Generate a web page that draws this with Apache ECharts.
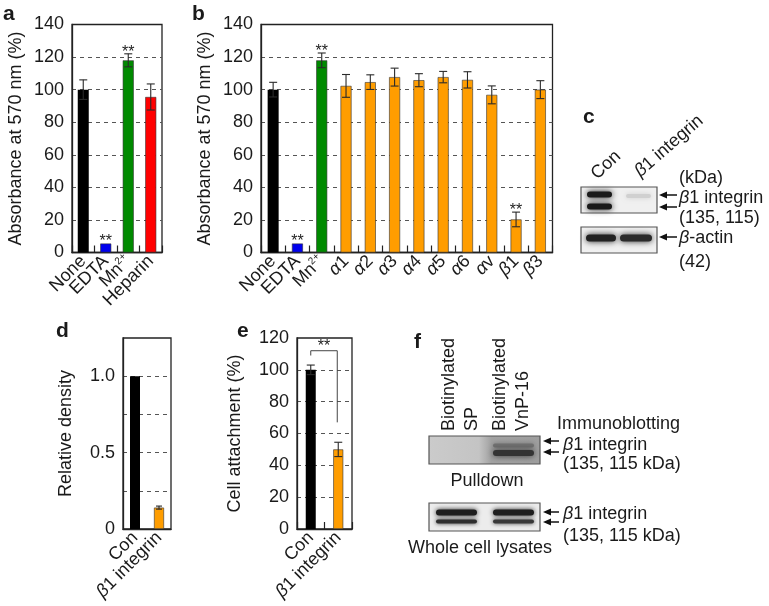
<!DOCTYPE html>
<html>
<head>
<meta charset="utf-8">
<script src="https://cdn.jsdelivr.net/npm/echarts@6/dist/echarts.min.js"></script>
<style>html,body{margin:0;padding:0;background:#fff}#c{width:769px;height:606px}</style>
</head>
<body>
<div id="c"></div>
<script>
// ---- data ----
const catsA = ['None', 'EDTA', 'Mn2+', 'Heparin'];
const valsA = [100, 5.5, 118, 95.5];
const errA = [6, 0, 4, 8];
const sigA = ['', '**', '**', ''];
const colorsA = ['#000000', '#0000ee', '#008a00', '#ff0000'];

const catsB = ['None', 'EDTA', 'Mn2+', 'α1', 'α2', 'α3', 'α4', 'α5', 'α6', 'αv', 'β1', 'β3'];
const valsB = [100, 5.5, 118, 102.3, 104.6, 107.7, 105.8, 107.7, 106, 96.8, 20.3, 100];
const errB = [4.5, 0, 4.5, 7, 4.5, 5.5, 4, 3.5, 5, 5.5, 4.5, 5.5];
const sigB = ['', '**', '**', '', '', '', '', '', '', '', '**', ''];
const colorsB = ['#000000', '#0000ee', '#008a00', '#ff9d00', '#ff9d00', '#ff9d00', '#ff9d00', '#ff9d00', '#ff9d00', '#ff9d00', '#ff9d00', '#ff9d00'];

const catsD = ['Con', 'β1 integrin'];
const valsD = [1.0, 0.14];
const errD = [0, 0.01];
const colorsD = ['#000000', '#ff9d00'];
const ticksD = [0, 0.5, 1.0];

const catsE = ['Con', 'β1 integrin'];
const valsE = [100, 50];
const errE = [3, 4.5];
const colorsE = ['#000000', '#ff9d00'];
const bracketE = [112, 109, 67]; // top, left leg end, right leg end
const bracketSig = '**';

const yTicksA = [0, 140, 20];
const yTicksE = [0, 120, 20];

// ---- helpers ----
const FONT = '"Liberation Sans", Arial, Helvetica, sans-serif';
const TXT = '#1a1a1a';
function catLabel(name) {
  if (name === 'Mn2+') return '{t|Mn}{s|2+}';
  const m = name.match(/^([αβ])(.*)$/);
  if (m) return '{i|' + m[1] + '}{t|' + m[2] + '}';
  return '{t|' + name + '}';
}
const rich = {
  t: { fontSize: 18, fontFamily: FONT, color: TXT, lineHeight: 20 },
  i: { fontSize: 18, fontFamily: FONT, color: TXT, fontStyle: 'italic', lineHeight: 20 },
  s: { fontSize: 10, fontFamily: FONT, color: TXT, verticalAlign: 'top', lineHeight: 20 }
};

function xCat(gi, data, showTick) {
  return {
    gridIndex: gi, type: 'category', data: data,
    axisLine: { lineStyle: { color: '#222', width: 1.3 } },
    axisTick: { show: showTick, inside: true, length: 7, lineStyle: { color: '#222', width: 1.2 } },
    axisLabel: { rotate: 45, interval: 0, margin: 6, formatter: catLabel, rich: rich }
  };
}
function yVal(gi, min, max, interval, name, gap, fmt) {
  return {
    gridIndex: gi, type: 'value', min: min, max: max, interval: interval,
    axisLine: { show: true, lineStyle: { color: '#222', width: 1.3 } },
    axisTick: { show: false },
    axisLabel: { fontSize: 18, fontFamily: FONT, color: TXT, margin: 8, formatter: fmt },
    splitLine: { show: true, showMinLine: false, showMaxLine: false, lineStyle: { type: [4, 4], color: '#555', width: 1 } },
    name: name, nameLocation: 'middle', nameGap: gap,
    nameTextStyle: { fontSize: 18, fontFamily: FONT, color: TXT }
  };
}
function barSeries(gi, vals, colors, width) {
  return {
    type: 'bar', xAxisIndex: gi, yAxisIndex: gi, barWidth: width,
    data: vals.map((v, i) => ({ value: v, itemStyle: { color: colors[i], borderColor: '#333', borderWidth: colors[i] === '#000000' ? 0 : 0.6 } })),
    animation: false, z: 2
  };
}
function errSeries(gi, vals, errs, sigs, capHalf) {
  return {
    type: 'custom', xAxisIndex: gi, yAxisIndex: gi, z: 5, animation: false, silent: true,
    data: vals.map((v, i) => [i, v, errs[i]]),
    renderItem: function (params, api) {
      const x = api.value(0), y = api.value(1), e = api.value(2);
      const top = api.coord([x, y + e]);
      const bot = api.coord([x, y - e]);
      const children = [];
      if (e > 0) {
        const ls = { stroke: '#2a2a2a', lineWidth: 1.1 };
        children.push({ type: 'line', shape: { x1: top[0], y1: top[1], x2: bot[0], y2: bot[1] }, style: ls });
        children.push({ type: 'line', shape: { x1: top[0] - capHalf, y1: top[1], x2: top[0] + capHalf, y2: top[1] }, style: ls });
        children.push({ type: 'line', shape: { x1: bot[0] - capHalf, y1: bot[1], x2: bot[0] + capHalf, y2: bot[1] }, style: ls });
      }
      const s = sigs ? sigs[params.dataIndex] : '';
      if (s) {
        children.push({ type: 'text', style: { text: s, x: top[0], y: top[1] - 1.5, align: 'center', verticalAlign: 'middle', fontSize: 16, fontFamily: FONT, fill: '#222' } });
      }
      return { type: 'group', children: children };
    }
  };
}

// ---- blot graphics (panels c and f) ----
const G = [];
function txt(x, y, text, opt) {
  opt = opt || {};
  G.push({
    type: 'text', x: x, y: y, rotation: opt.rot || 0, z: 10,
    style: {
      text: text, x: 0, y: 0, fontSize: opt.size || 18, fontFamily: FONT, fontWeight: opt.bold ? 'bold' : 'normal',
      fill: TXT, align: opt.align || 'left', verticalAlign: 'middle',
      rich: {
        i: { fontSize: opt.size || 18, fontFamily: FONT, fontStyle: 'italic', fill: TXT },
        n: { fontSize: opt.size || 18, fontFamily: FONT, fill: TXT }
      }
    }
  });
}
function box(x, y, w, h, fill) {
  G.push({ type: 'rect', z: 8, shape: { x: x, y: y, width: w, height: h }, style: { fill: fill, stroke: '#555', lineWidth: 1.2 } });
}
function band(x, y, w, h, color, blur) {
  G.push({ type: 'rect', z: 9, shape: { x: x, y: y, width: w, height: h, r: h / 2 }, style: { fill: color, shadowBlur: blur, shadowColor: color } });
}
function arrow(xTip, y, len) {
  G.push({ type: 'line', z: 9, shape: { x1: xTip + 4, y1: y, x2: xTip + len, y2: y }, style: { stroke: '#111', lineWidth: 1.5 } });
  G.push({ type: 'polygon', z: 9, shape: { points: [[xTip, y], [xTip + 8, y - 3.5], [xTip + 8, y + 3.5]] }, style: { fill: '#111' } });
}

// panel labels
txt(3, 14, 'a', { bold: true, size: 21 });
txt(192, 14, 'b', { bold: true, size: 21 });
txt(583, 117, 'c', { bold: true, size: 21 });
txt(56, 331, 'd', { bold: true, size: 21 });
txt(237, 331, 'e', { bold: true, size: 21 });
txt(414, 342, 'f', { bold: true, size: 21 });

// panel c
txt(606, 165, 'Con', { align: 'center', rot: Math.PI * 43 / 180, size: 18 });
txt(669, 146, '{i|β}{n|1 integrin}', { align: 'center', rot: Math.PI * 41 / 180, size: 18 });
box(581, 187, 76, 26, '#f0f0f0');
band(587, 191.5, 25, 6, '#1a1a1a', 6);
band(587, 203.5, 25, 6, '#1a1a1a', 6);
band(626, 194, 25, 4, '#d0d0d0', 5);
box(581, 227, 76, 26, '#f0f0f0');
band(586, 234.5, 30, 7, '#222222', 6);
band(620, 234.5, 32, 7, '#2a2a2a', 6);
arrow(659, 195, 18);
arrow(659, 207, 18);
arrow(659, 237, 18);
txt(679, 178, '(kDa)');
txt(679, 198, '{i|β}{n|1 integrin}');
txt(679, 218, '(135, 115)');
txt(679, 238, '{i|β}{n|-actin}');
txt(679, 262, '(42)');

// panel f
txt(449, 431, 'Biotinylated', { rot: Math.PI / 2 });
txt(472, 431, 'SP', { rot: Math.PI / 2 });
txt(500, 431, 'Biotinylated', { rot: Math.PI / 2 });
txt(523, 431, 'VnP-16', { rot: Math.PI / 2 });
txt(557, 424, 'Immunoblotting');
G.push({ type: 'rect', z: 8, shape: { x: 429, y: 436, width: 111, height: 28 },
  style: { fill: new echarts.graphic.LinearGradient(0, 0, 1, 0, [{ offset: 0, color: '#cbcbcb' }, { offset: 0.45, color: '#c4c4c4' }, { offset: 0.56, color: '#a2a2a2' }, { offset: 1, color: '#9e9e9e' }]), stroke: '#555', lineWidth: 1.2 } });
band(493, 443.5, 41, 4, '#707070', 5);
band(493, 450, 41, 6, '#333333', 6);
arrow(543, 441, 16);
arrow(543, 452, 16);
txt(563, 445, '{i|β}{n|1 integrin}');
txt(563, 464, '(135, 115 kDa)');
txt(487, 481, 'Pulldown', { align: 'center' });
box(429, 503, 111, 28, '#ececec');
band(436, 509.5, 41, 6, '#1e1e1e', 5);
band(436, 519.5, 41, 4, '#2e2e2e', 4);
band(493, 509.5, 41, 6, '#1e1e1e', 5);
band(493, 519.5, 41, 4, '#383838', 4);
arrow(543, 512, 16);
arrow(543, 522, 16);
txt(563, 514, '{i|β}{n|1 integrin}');
txt(563, 536, '(135, 115 kDa)');
txt(480, 548, 'Whole cell lysates', { align: 'center' });

// bracket for panel e
const bracketSeries = {
  type: 'custom', xAxisIndex: 3, yAxisIndex: 3, z: 6, animation: false, silent: true,
  data: [[0, 1, bracketE[0], bracketE[1], bracketE[2]]],
  renderItem: function (params, api) {
    const a = api.value(0), b = api.value(1);
    const p1 = api.coord([a, api.value(3)]);
    const p2 = api.coord([a, api.value(2)]);
    const p3 = api.coord([b, api.value(2)]);
    const p4 = api.coord([b, api.value(4)]);
    p3[0] -= 1; p4[0] -= 1;
    return { type: 'group', children: [
      { type: 'polyline', shape: { points: [p1, p2, p3, p4] }, style: { stroke: '#444', lineWidth: 1, fill: null } },
      { type: 'text', style: { text: bracketSig, x: (p2[0] + p3[0]) / 2, y: p2[1] - 4, align: 'center', verticalAlign: 'middle', fontSize: 16, fontFamily: FONT, fill: '#222' } }
    ] };
  }
};

const gridBase = { show: true, borderColor: '#222', borderWidth: 1.3, backgroundColor: 'transparent', containLabel: false, outerBoundsMode: 'none' };
const option = {
  backgroundColor: '#ffffff',
  animation: false,
  textStyle: { fontFamily: FONT },
  grid: [
    Object.assign({ left: 72, top: 24.5, width: 90, height: 228 }, gridBase),
    Object.assign({ left: 261, top: 24.5, width: 291.5, height: 228 }, gridBase),
    Object.assign({ left: 123, top: 338, width: 48, height: 191 }, gridBase),
    Object.assign({ left: 297, top: 338, width: 55, height: 191 }, gridBase)
  ],
  xAxis: [xCat(0, catsA, true), xCat(1, catsB, true), xCat(2, catsD, false), xCat(3, catsE, true)],
  yAxis: [
    yVal(0, yTicksA[0], yTicksA[1], yTicksA[2], 'Absorbance at 570 nm (%)', 47),
    yVal(1, yTicksA[0], yTicksA[1], yTicksA[2], 'Absorbance at 570 nm (%)', 47),
    yVal(2, 0, 1.25, 0.25, 'Relative density', 48, function (v) {
      return ticksD.some(t => Math.abs(t - v) < 1e-9) ? (v === 0 ? '0' : v.toFixed(1)) : '';
    }),
    yVal(3, yTicksE[0], yTicksE[1], yTicksE[2], 'Cell attachment (%)', 53)
  ],
  series: [
    barSeries(0, valsA, colorsA, 11), errSeries(0, valsA, errA, sigA, 4),
    barSeries(1, valsB, colorsB, 11), errSeries(1, valsB, errB, sigB, 4),
    barSeries(2, valsD, colorsD, 10), errSeries(2, valsD, errD, null, 3),
    barSeries(3, valsE, colorsE, 10), errSeries(3, valsE, errE, null, 4),
    bracketSeries
  ],
  graphic: G
};
const chart = echarts.init(document.getElementById('c'), null, { renderer: 'canvas', width: 769, height: 606 });
chart.setOption(option);
</script>
</body>
</html>
